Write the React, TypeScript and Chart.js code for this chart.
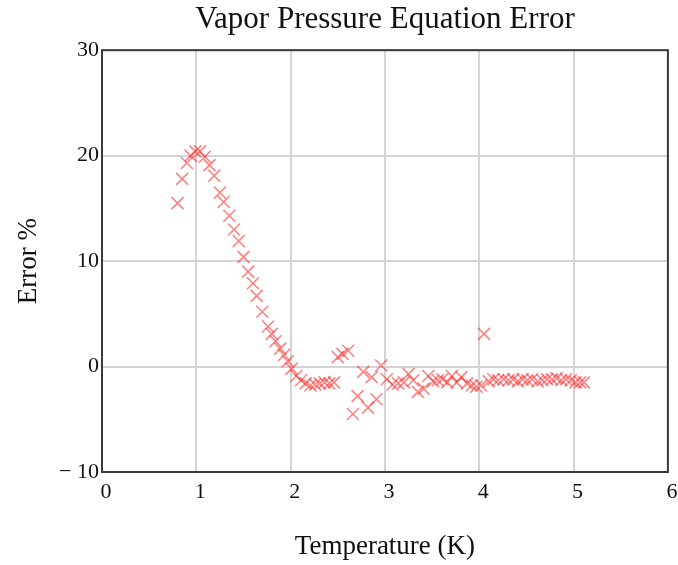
import React, { useEffect, useRef } from "react";
import { Chart, registerables } from "chart.js";

Chart.register(...registerables);

const TITLE = "Vapor Pressure Equation Error";
const X_TITLE = "Temperature (K)";
const Y_TITLE = "Error %";

const temperature = [
  0.80, 0.85, 0.90, 0.94, 0.99, 1.04, 1.09, 1.14, 1.19, 1.25,
  1.29, 1.35, 1.40, 1.45, 1.50, 1.55, 1.60, 1.64, 1.70, 1.76,
  1.80, 1.84, 1.89, 1.93, 1.97, 2.01, 2.06, 2.11, 2.16, 2.21,
  2.26, 2.31, 2.36, 2.41, 2.46, 2.50, 2.55, 2.61, 2.66, 2.71,
  2.77, 2.82, 2.86, 2.91, 2.96, 3.02, 3.08, 3.14, 3.20, 3.25,
  3.30, 3.35, 3.41, 3.46, 3.51, 3.56, 3.61, 3.66, 3.71, 3.76,
  3.81, 3.87, 3.92, 3.97, 4.02, 4.05, 4.10, 4.15, 4.20, 4.26,
  4.31, 4.36, 4.41, 4.46, 4.51, 4.56, 4.62, 4.67, 4.72, 4.77,
  4.82, 4.87, 4.92, 4.97, 5.02, 5.07, 5.11,
];

const errorPct = [
  15.5, 17.8, 19.3, 20.0, 20.4, 20.4, 19.9, 19.1, 18.1, 16.5,
  15.6, 14.3, 13.0, 11.9, 10.4, 9.0, 7.9, 6.7, 5.2, 3.8,
  3.1, 2.4, 1.7, 1.1, 0.5, -0.2, -0.9, -1.3, -1.6, -1.8,
  -1.7, -1.6, -1.5, -1.6, -1.5, 0.9, 1.2, 1.5, -4.5, -2.8,
  -0.5, -3.9, -1.0, -3.1, 0.1, -1.2, -1.7, -1.6, -1.5, -0.7,
  -1.3, -2.4, -2.1, -0.9, -1.4, -1.3, -1.2, -1.5, -0.9, -1.5,
  -1.0, -1.6, -1.8, -1.9, -1.8, 3.1, -1.4, -1.2, -1.3, -1.2,
  -1.3, -1.2, -1.4, -1.2, -1.3, -1.2, -1.4, -1.3, -1.2, -1.2,
  -1.1, -1.3, -1.2, -1.3, -1.5, -1.5, -1.5,
];

const X_MIN = 0;
const X_MAX = 6;
const Y_MIN = -10;
const Y_MAX = 30;

const SERIF = "'Liberation Serif', 'Times New Roman', serif";

const framePlugin = {
  id: "frame",
  afterDraw(chart: any) {
    const { ctx, chartArea } = chart;
    ctx.save();
    ctx.strokeStyle = "#3a3a3a";
    ctx.lineWidth = 2;
    ctx.strokeRect(
      chartArea.left,
      chartArea.top,
      chartArea.right - chartArea.left,
      chartArea.bottom - chartArea.top
    );
    ctx.restore();
  },
};

export default function App() {
  const canvasRef = useRef<HTMLCanvasElement | null>(null);

  useEffect(() => {
    if (!canvasRef.current) return;
    const points = temperature.map((t, i) => ({ x: t, y: errorPct[i] }));
    const chart = new Chart(canvasRef.current, {
      type: "scatter",
      data: {
        datasets: [
          {
            data: points,
            pointStyle: "crossRot",
            pointRadius: 8.5,
            pointBorderWidth: 1.6,
            borderColor: "rgba(255, 30, 30, 0.55)",
            backgroundColor: "rgba(255, 30, 30, 0.55)",
            showLine: false,
          },
        ],
      },
      options: {
        responsive: false,
        animation: false,
        layout: { padding: { left: 0, right: 9, top: 0, bottom: 0 } },
        plugins: {
          legend: { display: false },
          tooltip: { enabled: false },
          title: {
            display: true,
            text: TITLE,
            fullSize: false,
            color: "#111",
            font: { family: SERIF, size: 31, weight: "normal", lineHeight: 1.2 },
            padding: { top: 1, bottom: 12 },
          },
        },
        scales: {
          x: {
            type: "linear",
            min: X_MIN,
            max: X_MAX,
            ticks: {
              stepSize: 1,
              color: "#111",
              font: { family: SERIF, size: 22 },
              padding: 7,
              labelOffset: 4,
              maxRotation: 0,
            },
            grid: { color: "#d4d4d4", lineWidth: 2, drawTicks: false },
            border: { display: false },
            title: {
              display: true,
              text: X_TITLE,
              color: "#111",
              font: { family: SERIF, size: 27 },
              padding: { top: 0, bottom: 2 },
            },
            afterFit: (s: any) => {
              s.height = 93;
              s.paddingRight = 0;
              s.paddingLeft = 0;
            },
          },
          y: {
            type: "linear",
            min: Y_MIN,
            max: Y_MAX,
            ticks: {
              stepSize: 10,
              color: "#111",
              font: { family: SERIF, size: 22 },
              padding: 3,
              callback: (v: any) =>
                Number(v) < 0 ? "\u2212 " + Math.abs(Number(v)) : String(v),
            },
            grid: { color: "#d4d4d4", lineWidth: 2, drawTicks: false },
            border: { display: false },
            title: {
              display: true,
              text: Y_TITLE,
              color: "#111",
              font: { family: SERIF, size: 27 },
              padding: { top: 13, bottom: 0 },
            },
            afterFit: (s: any) => {
              s.width = 102;
            },
          },
        },
      },
      plugins: [framePlugin],
    });
    return () => chart.destroy();
  }, []);

  return (
    <div style={{ position: "fixed", left: 0, top: 0, width: 678, height: 565, background: "#fff" }}>
      <canvas ref={canvasRef} width={678} height={565} />
    </div>
  );
}
